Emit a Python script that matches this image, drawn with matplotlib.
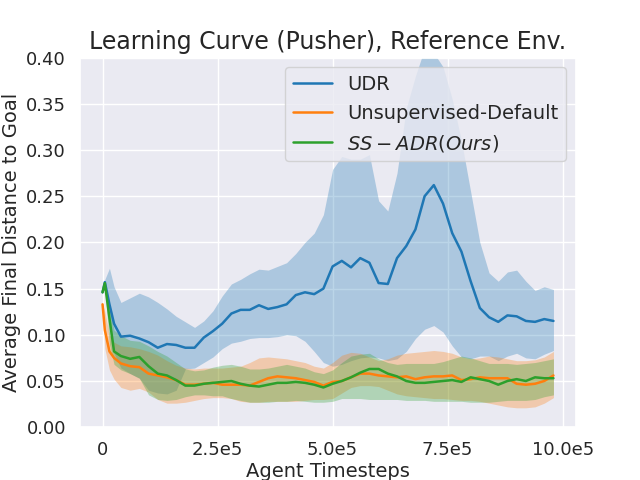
import numpy as np
import matplotlib
matplotlib.use("Agg")
import matplotlib.pyplot as plt
import seaborn as sns

sns.set()
plt.rcParams['font.family'] = ['DejaVu Sans']

# timesteps (in units of 1e5)
steps = [0, 0.05, 0.15, 0.25, 0.4, 0.6, 0.8, 1.0, 1.2, 1.4, 1.6, 1.8, 2.0, 2.2, 2.4, 2.6,
         2.8, 3.0, 3.2, 3.4, 3.6, 3.8, 4.0, 4.2, 4.4, 4.6, 4.8, 5.0, 5.2, 5.4, 5.6, 5.8,
         6.0, 6.2, 6.4, 6.6, 6.8, 7.0, 7.2, 7.4, 7.6, 7.8, 8.0, 8.2, 8.4, 8.6, 8.8, 9.0,
         9.2, 9.4, 9.6, 9.8]

udr_mean = [0.146, 0.157, 0.133, 0.112, 0.098, 0.099, 0.096, 0.092, 0.086, 0.090, 0.089,
            0.086, 0.086, 0.097, 0.104, 0.112, 0.123, 0.127, 0.127, 0.132, 0.128, 0.130,
            0.133, 0.143, 0.146, 0.144, 0.150, 0.174, 0.180, 0.173, 0.183, 0.178, 0.156,
            0.155, 0.183, 0.196, 0.214, 0.250, 0.262, 0.242, 0.210, 0.190, 0.158, 0.129,
            0.119, 0.114, 0.121, 0.120, 0.115, 0.114, 0.117, 0.115]
udr_upper = [0.146, 0.160, 0.172, 0.152, 0.135, 0.140, 0.145, 0.141, 0.135, 0.128, 0.120,
             0.114, 0.108, 0.115, 0.126, 0.142, 0.155, 0.160, 0.166, 0.171, 0.170, 0.174,
             0.178, 0.188, 0.200, 0.210, 0.230, 0.279, 0.293, 0.290, 0.290, 0.295, 0.245,
             0.234, 0.275, 0.345, 0.380, 0.410, 0.405, 0.390, 0.355, 0.310, 0.255, 0.200,
             0.167, 0.158, 0.168, 0.170, 0.158, 0.148, 0.152, 0.149]
udr_lower = [0.146, 0.150, 0.110, 0.080, 0.064, 0.058, 0.053, 0.040, 0.037, 0.036, 0.040,
             0.063, 0.064, 0.070, 0.076, 0.085, 0.091, 0.093, 0.096, 0.097, 0.097, 0.098,
             0.100, 0.099, 0.093, 0.082, 0.070, 0.066, 0.068, 0.072, 0.075, 0.076, 0.075,
             0.072, 0.074, 0.082, 0.096, 0.106, 0.110, 0.103, 0.088, 0.076, 0.074, 0.077,
             0.077, 0.072, 0.077, 0.080, 0.075, 0.074, 0.079, 0.083]

unsup_mean = [0.133, 0.105, 0.082, 0.075, 0.069, 0.066, 0.065, 0.058, 0.056, 0.054, 0.051,
              0.046, 0.046, 0.047, 0.048, 0.046, 0.046, 0.046, 0.045, 0.049, 0.053, 0.055,
              0.054, 0.053, 0.051, 0.049, 0.045, 0.049, 0.050, 0.054, 0.058, 0.058, 0.056,
              0.055, 0.054, 0.055, 0.052, 0.054, 0.055, 0.055, 0.056, 0.051, 0.052, 0.054,
              0.053, 0.053, 0.053, 0.047, 0.046, 0.047, 0.050, 0.056]
unsup_upper = [0.133, 0.125, 0.100, 0.092, 0.088, 0.087, 0.085, 0.082, 0.078, 0.072, 0.067,
               0.064, 0.063, 0.064, 0.064, 0.064, 0.065, 0.066, 0.070, 0.075, 0.076, 0.075,
               0.074, 0.072, 0.070, 0.066, 0.064, 0.070, 0.078, 0.081, 0.080, 0.076, 0.072,
               0.074, 0.078, 0.080, 0.081, 0.082, 0.083, 0.082, 0.080, 0.076, 0.074, 0.075,
               0.077, 0.076, 0.074, 0.072, 0.072, 0.073, 0.076, 0.082]
unsup_lower = [0.133, 0.085, 0.062, 0.052, 0.043, 0.040, 0.042, 0.038, 0.030, 0.026, 0.026,
               0.027, 0.029, 0.031, 0.032, 0.032, 0.031, 0.028, 0.027, 0.027, 0.028, 0.028,
               0.028, 0.028, 0.029, 0.030, 0.030, 0.031, 0.037, 0.043, 0.045, 0.045, 0.044,
               0.040, 0.036, 0.034, 0.033, 0.032, 0.031, 0.031, 0.030, 0.029, 0.029, 0.028,
               0.026, 0.024, 0.022, 0.021, 0.021, 0.022, 0.026, 0.032]

ssadr_mean = [0.146, 0.156, 0.118, 0.082, 0.077, 0.074, 0.076, 0.066, 0.058, 0.056, 0.051,
              0.045, 0.045, 0.047, 0.048, 0.049, 0.050, 0.047, 0.045, 0.044, 0.046, 0.048,
              0.048, 0.049, 0.048, 0.046, 0.043, 0.047, 0.050, 0.054, 0.059, 0.063, 0.063,
              0.058, 0.055, 0.050, 0.048, 0.048, 0.049, 0.050, 0.051, 0.049, 0.054, 0.052,
              0.050, 0.046, 0.050, 0.052, 0.050, 0.054, 0.053, 0.053]
ssadr_upper = [0.146, 0.158, 0.130, 0.105, 0.099, 0.094, 0.093, 0.088, 0.082, 0.077, 0.070,
               0.063, 0.061, 0.062, 0.065, 0.067, 0.068, 0.066, 0.063, 0.063, 0.064, 0.066,
               0.068, 0.066, 0.064, 0.060, 0.058, 0.062, 0.070, 0.077, 0.079, 0.080, 0.074,
               0.070, 0.068, 0.069, 0.069, 0.069, 0.069, 0.071, 0.074, 0.077, 0.075, 0.072,
               0.069, 0.069, 0.069, 0.068, 0.069, 0.070, 0.072, 0.074]
ssadr_lower = [0.146, 0.150, 0.090, 0.068, 0.062, 0.058, 0.053, 0.035, 0.030, 0.029, 0.030,
               0.033, 0.035, 0.035, 0.034, 0.034, 0.031, 0.029, 0.027, 0.027, 0.027, 0.028,
               0.028, 0.029, 0.028, 0.027, 0.027, 0.028, 0.031, 0.031, 0.031, 0.030, 0.030,
               0.030, 0.030, 0.029, 0.029, 0.029, 0.028, 0.028, 0.028, 0.028, 0.027, 0.027,
               0.027, 0.028, 0.029, 0.029, 0.029, 0.030, 0.033, 0.035]

x = np.array(steps) * 1e5

fig, ax = plt.subplots(figsize=(6.4, 4.8), dpi=100)

ax.plot(x, udr_mean, label="UDR", color="tab:blue", linewidth=1.8)
ax.fill_between(x, udr_lower, udr_upper, color="tab:blue", alpha=0.3, linewidth=0)
ax.plot(x, unsup_mean, label="Unsupervised-Default", color="tab:orange", linewidth=1.8)
ax.fill_between(x, unsup_lower, unsup_upper, color="tab:orange", alpha=0.3, linewidth=0)
ax.plot(x, ssadr_mean, label="$SS-ADR(Ours)$", color="tab:green", linewidth=1.8)
ax.fill_between(x, ssadr_lower, ssadr_upper, color="tab:green", alpha=0.3, linewidth=0)

ax.set_ylim(0, 0.4)
ax.set_xticks([0, 2.5e5, 5e5, 7.5e5, 10e5])
ax.set_xticklabels(["0", "2.5e5", "5.0e5", "7.5e5", "10.0e5"])
ax.tick_params(labelsize=13, pad=4)
ax.set_title("Learning Curve (Pusher), Reference Env.", fontsize=17)
ax.set_xlabel("Agent Timesteps", fontsize=14, labelpad=2)
ax.set_ylabel("Average Final Distance to Goal", fontsize=14)
ax.legend(loc="upper right", fontsize=14)

plt.savefig("out.png")
